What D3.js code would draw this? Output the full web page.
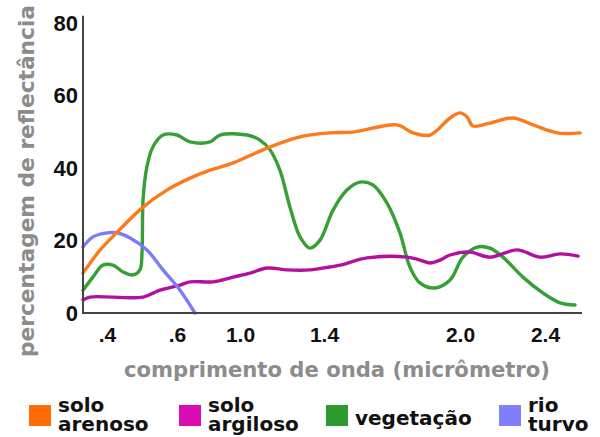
<!DOCTYPE html>
<html>
<head>
<meta charset="utf-8">
<script src="https://cdn.jsdelivr.net/npm/d3@7"></script>
<style>
  body { margin: 0; background: #fff; }
  svg { display: block; }
</style>
</head>
<body>
<svg id="chart" width="600" height="437"></svg>
<script>
// wavelength (micrometre) -> reflectance (%)
var areiaX = [0.33, 0.38, 0.429, 0.503, 0.571, 0.683, 0.81, 0.956, 1.129, 1.286, 1.426, 1.528, 1.722, 1.793, 1.868, 1.956, 2.0, 2.033, 2.061, 2.141, 2.249, 2.344, 2.455, 2.561];
var areiaY = [11.0, 17.4, 22.3, 29.2, 33.9, 37.2, 39.4, 41.4, 45.5, 48.6, 49.7, 49.9, 51.9, 49.7, 49.1, 53.8, 55.2, 54.1, 51.6, 52.4, 53.8, 51.9, 49.7, 49.7];

var argilaX = [0.33, 0.35, 0.503, 0.551, 0.619, 0.683, 0.829, 0.956, 1.048, 1.129, 1.224, 1.333, 1.426, 1.471, 1.59, 1.766, 1.823, 1.868, 1.912, 1.956, 2.047, 2.141, 2.268, 2.376, 2.469, 2.552];
var argilaY = [3.6, 4.4, 4.4, 6.3, 7.7, 8.6, 8.6, 9.9, 11.0, 12.4, 11.9, 11.9, 12.7, 13.2, 15.2, 15.4, 14.6, 13.8, 14.6, 16.0, 16.8, 15.4, 17.4, 15.4, 16.3, 15.7];

var vegX = [0.33, 0.359, 0.388, 0.417, 0.446, 0.474, 0.494, 0.5, 0.503, 0.514, 0.531, 0.56, 0.6, 0.683, 0.81, 0.873, 1.033, 1.095, 1.143, 1.19, 1.238, 1.286, 1.333, 1.381, 1.44, 1.501, 1.559, 1.616, 1.678, 1.735, 1.779, 1.823, 1.89, 1.956, 2.014, 2.08, 2.141, 2.202, 2.296, 2.391, 2.469, 2.538];
var vegY = [6.3, 9.9, 13.2, 13.2, 11.3, 10.5, 11.9, 16.6, 31.2, 40.3, 45.8, 49.1, 49.1, 47.2, 47.2, 49.1, 49.1, 47.7, 45.0, 39.4, 29.2, 21.0, 17.9, 20.1, 28.4, 33.9, 36.1, 35.3, 30.3, 22.1, 12.7, 8.3, 6.9, 9.1, 15.4, 18.2, 17.9, 15.4, 9.9, 5.5, 2.8, 2.2];

var rioX = [0.33, 0.359, 0.4, 0.429, 0.466, 0.514, 0.56, 0.619, 0.714];
var rioY = [18.2, 21.0, 22.1, 22.1, 20.7, 17.4, 11.9, 6.3, 0];

var seriesNames = [["solo", "arenoso"], ["solo", "argiloso"], ["vegetação"], ["rio", "turvo"]];
var lineColors = ["#fb7a1c", "#b4109e", "#36a036", "#7c7cf6"];
var keyColors = ["#ff6c06", "#dc0cb4", "#2c9a2c", "#8080fa"];

var xTicks = [0.4, 0.6, 1.0, 1.4, 2.0, 2.4];
var xTickLabels = [".4", ".6", "1.0", "1.4", "2.0", "2.4"];
var yTicks = [0, 20, 40, 60, 80];

var svg = d3.select("#chart");

// the printed axis is not evenly spaced, so map it piece by piece
var x = d3.scaleLinear()
    .domain([0.33, 0.4, 0.6, 1.0, 1.4, 2.0, 2.4, 2.57])
    .range([83, 107, 177, 240, 324, 460, 545, 582]);

var y = d3.scaleLinear()
    .domain([0, 80])
    .range([313, 23]);

var series = [
    { xs: areiaX, ys: areiaY },
    { xs: argilaX, ys: argilaY },
    { xs: vegX, ys: vegY },
    { xs: rioX, ys: rioY }
];

var line = d3.line()
    .x(function (d) { return x(d[0]); })
    .y(function (d) { return y(d[1]); })
    .curve(d3.curveCatmullRom.alpha(0.5));

// draw order: green under the others like in the picture
var order = [2, 1, 3, 0];
svg.append("g")
    .selectAll("path")
    .data(order)
    .enter().append("path")
    .attr("fill", "none")
    .attr("stroke", function (i) { return lineColors[i]; })
    .attr("stroke-width", 3.4)
    .attr("stroke-linejoin", "round")
    .attr("stroke-linecap", "round")
    .attr("d", function (i) {
        return line(series[i].xs.map(function (v, k) { return [v, series[i].ys[k]]; }));
    });

// axes
var tickFont = "'Liberation Sans', Arial, sans-serif";

var gx = svg.append("g")
    .attr("transform", "translate(0," + y(0) + ")")
    .call(d3.axisBottom(x)
        .tickValues(xTicks)
        .tickSize(0)
        .tickPadding(14)
        .tickFormat(function (d, i) { return xTickLabels[i]; }));
gx.select(".domain").remove();
gx.selectAll("text")
    .style("font-family", tickFont)
    .style("font-weight", "bold")
    .style("font-size", "21px")
    .attr("fill", "#111");

var gy = svg.append("g")
    .attr("transform", "translate(" + x(0.33) + ",0)")
    .call(d3.axisLeft(y)
        .tickValues(yTicks)
        .tickSize(0)
        .tickPadding(5));
gy.select(".domain").remove();
gy.selectAll("text")
    .style("font-family", tickFont)
    .style("font-weight", "bold")
    .style("font-size", "22px")
    .attr("fill", "#111");

svg.append("line")
    .attr("x1", x(0.33)).attr("x2", x(2.57))
    .attr("y1", y(0)).attr("y2", y(0))
    .attr("stroke", "#444").attr("stroke-width", 2);
svg.append("line")
    .attr("x1", x(0.33)).attr("x2", x(0.33))
    .attr("y1", y(0) + 1).attr("y2", y(82))
    .attr("stroke", "#444").attr("stroke-width", 2);

// axis titles
var titleFont = "'DejaVu Sans', Verdana, sans-serif";
svg.append("text")
    .attr("x", 124)
    .attr("y", 377)
    .attr("textLength", 426)
    .attr("lengthAdjust", "spacingAndGlyphs")
    .style("font-family", titleFont)
    .style("font-weight", "bold")
    .style("font-size", "21px")
    .attr("fill", "#8c8c8c")
    .text("comprimento de onda (micrômetro)");

svg.append("text")
    .attr("transform", "translate(34,357) rotate(-90)")
    .attr("textLength", 352)
    .attr("lengthAdjust", "spacingAndGlyphs")
    .style("font-family", titleFont)
    .style("font-weight", "bold")
    .style("font-size", "21px")
    .attr("fill", "#8c8c8c")
    .text("percentagem de reflectância");

// legend
var keyX = [29, 179, 326, 499];
var legend = svg.append("g").selectAll("g")
    .data(seriesNames)
    .enter().append("g")
    .attr("transform", function (d, i) { return "translate(" + keyX[i] + ",0)"; });

legend.append("rect")
    .attr("x", 0).attr("y", 405)
    .attr("width", 22).attr("height", 21)
    .attr("fill", function (d, i) { return keyColors[i]; });

legend.append("text")
    .attr("x", 29)
    .style("font-family", titleFont)
    .style("font-weight", "bold")
    .style("font-size", "20px")
    .attr("fill", "#111")
    .selectAll("tspan")
    .data(function (d) { return d; })
    .enter().append("tspan")
    .attr("x", 29)
    .attr("y", function (t, k, nodes) {
        return nodes.length === 1 ? 425 : 412 + k * 19;
    })
    .text(function (t) { return t; });
</script>
</body>
</html>
